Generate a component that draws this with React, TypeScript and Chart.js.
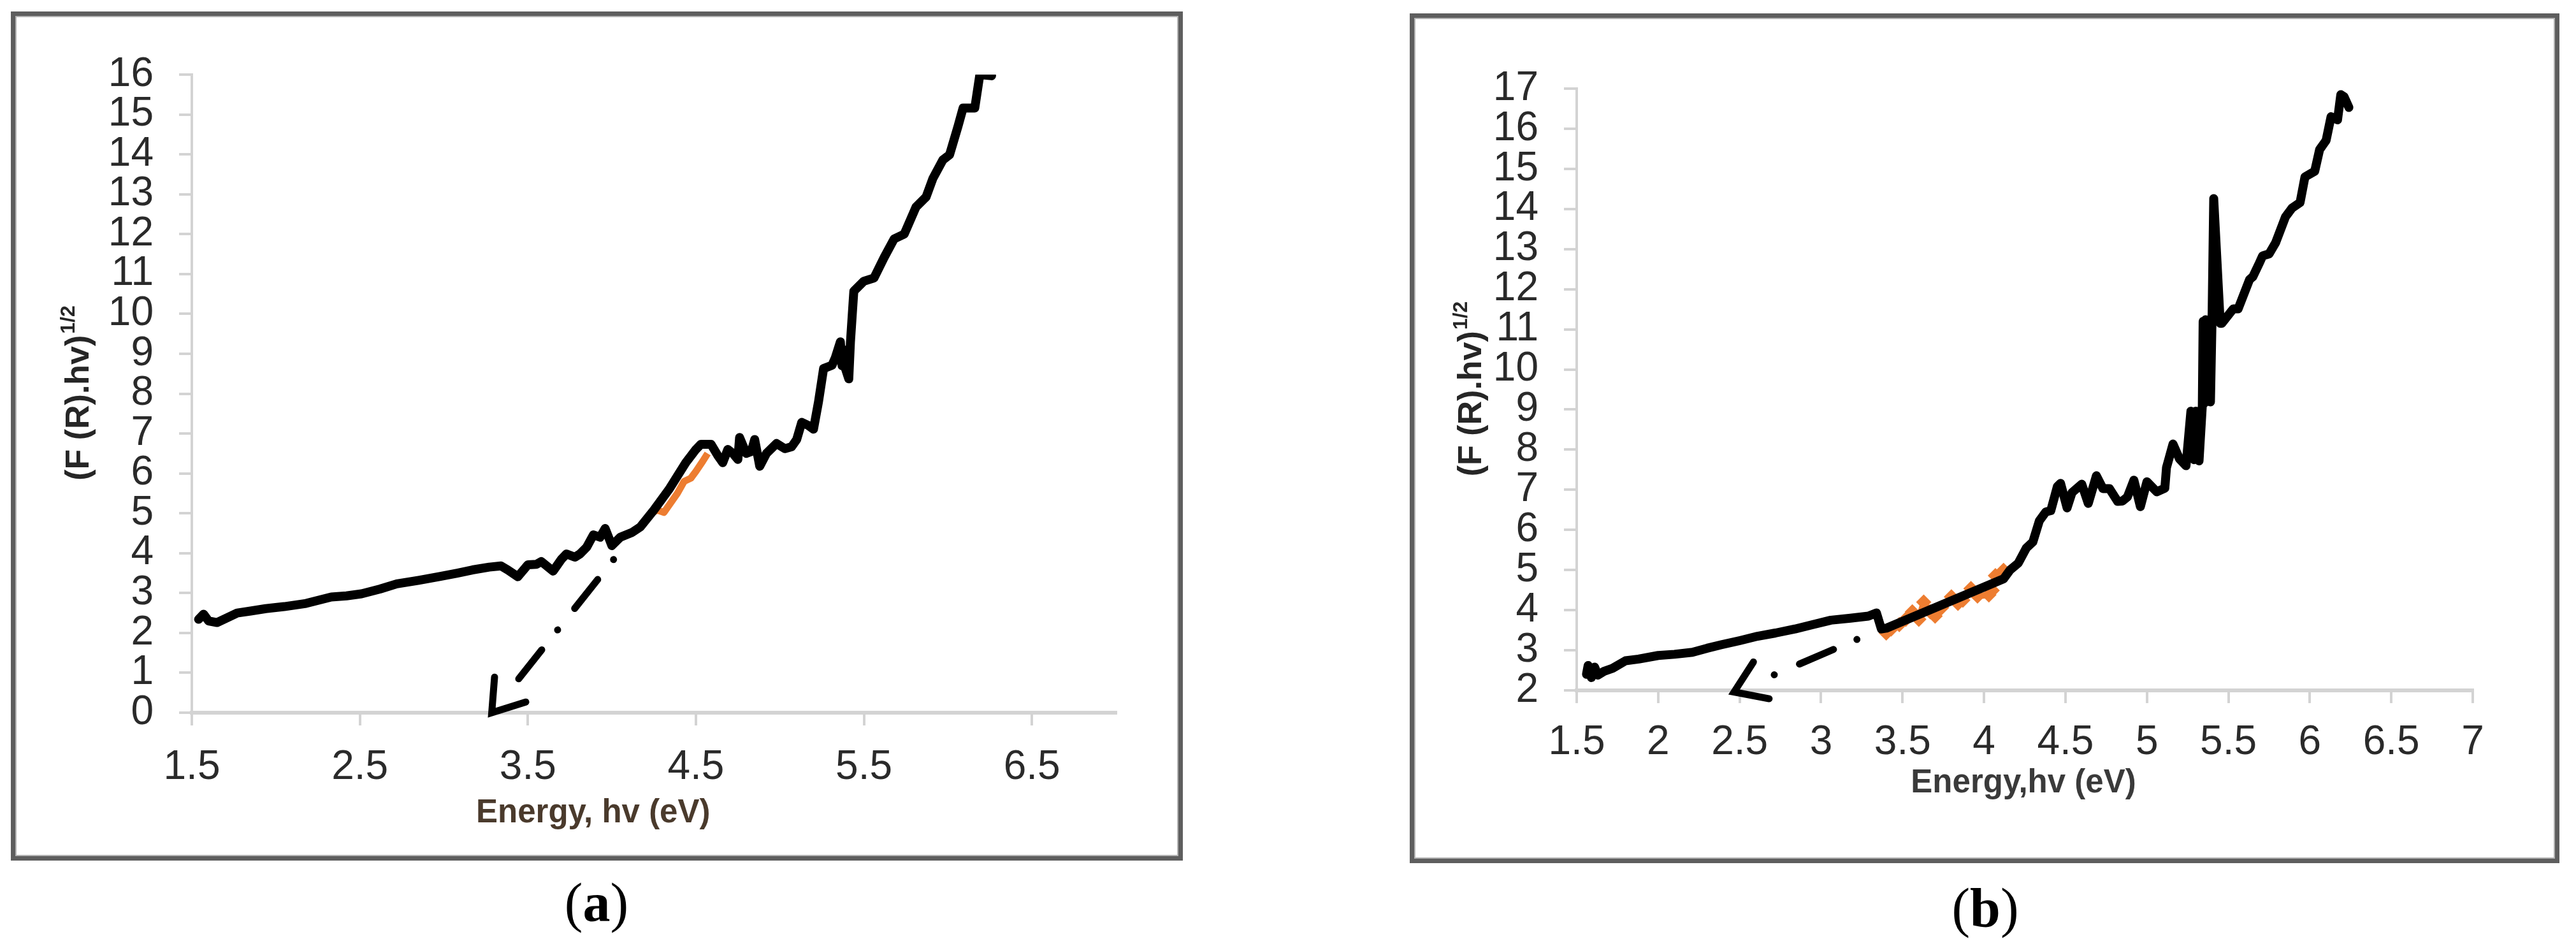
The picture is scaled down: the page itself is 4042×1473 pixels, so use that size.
import React, { useEffect, useRef } from "react";
import { Chart, registerables } from "chart.js";

Chart.register(...registerables);

// ---------------- Panel (a) data ----------------
const A_X = [
  1.54, 1.57, 1.6, 1.65, 1.7, 1.77, 1.85, 1.94, 2.05, 2.18,
  2.33, 2.42, 2.51, 2.62, 2.72, 2.85, 2.97, 3.08, 3.17, 3.27,
  3.34, 3.38, 3.44, 3.5, 3.55, 3.58, 3.65, 3.7, 3.73, 3.78,
  3.81, 3.85, 3.89, 3.93, 3.96, 4.0, 4.05, 4.12, 4.17, 4.25,
  4.34, 4.44, 4.5, 4.53, 4.59, 4.63, 4.66, 4.69, 4.72, 4.75,
  4.76, 4.8, 4.83, 4.85, 4.88, 4.92, 4.98, 5.03, 5.07, 5.1,
  5.13, 5.17, 5.2, 5.23, 5.26, 5.31, 5.33, 5.36, 5.37, 5.38,
  5.39, 5.41, 5.42, 5.44, 5.5, 5.56, 5.62, 5.68, 5.74, 5.81,
  5.87, 5.91, 5.97, 6.01, 6.06, 6.09, 6.16, 6.19, 6.26,
];
const A_Y = [
  2.34, 2.47, 2.3, 2.26, 2.36, 2.5, 2.55, 2.61, 2.66, 2.74,
  2.9, 2.93, 2.98, 3.1, 3.23, 3.32, 3.41, 3.5, 3.58, 3.65,
  3.68, 3.58, 3.41, 3.71, 3.72, 3.79, 3.55, 3.85, 3.98, 3.9,
  3.98, 4.15, 4.46, 4.4, 4.62, 4.19, 4.4, 4.52, 4.66, 5.08,
  5.6, 6.27, 6.6, 6.73, 6.73, 6.45, 6.27, 6.6, 6.5, 6.35,
  6.9, 6.5, 6.55, 6.85, 6.18, 6.5, 6.75, 6.62, 6.67, 6.85,
  7.28, 7.2, 7.11, 7.8, 8.63, 8.71, 8.9, 9.3, 8.7, 9.1,
  8.63, 8.37, 9.3, 10.57, 10.82, 10.9, 11.41, 11.88, 12.0, 12.68,
  12.93, 13.39, 13.86, 13.99, 14.7, 15.16, 15.16, 16.0, 15.97,
];
const A_FIT_X = [4.23, 4.27, 4.31, 4.35, 4.39, 4.43, 4.47, 4.5, 4.54, 4.57];
const A_FIT_Y = [5.0, 5.08, 5.02, 5.26, 5.5, 5.8, 5.88, 6.05, 6.3, 6.5];
const A_ARROW_FROM = [4.01, 3.84];
const A_ARROW_TO = [3.285, 0];
const A_X_TICKS = [1.5, 2.5, 3.5, 4.5, 5.5, 6.5];
const A_X_MIN = 1.5;
const A_X_MAX = 7;
const A_Y_MIN = 0;
const A_Y_MAX = 16;
const A_X_TITLE = "Energy, hv (eV)";
const A_CAPTION = "a";

// ---------------- Panel (b) data ----------------
const B_X = [
  1.56, 1.57, 1.59, 1.61, 1.63, 1.67, 1.72, 1.8, 1.88, 2.0,
  2.1, 2.21, 2.3, 2.39, 2.5, 2.61, 2.72, 2.84, 2.95, 3.06,
  3.18, 3.29, 3.34, 3.37, 3.4, 4.12, 4.16, 4.21, 4.26, 4.3,
  4.34, 4.38, 4.41, 4.45, 4.47, 4.51, 4.54, 4.6, 4.64, 4.69,
  4.73, 4.77, 4.82, 4.85, 4.88, 4.92, 4.96, 5.0, 5.06, 5.11,
  5.12, 5.16, 5.2, 5.24, 5.27, 5.29, 5.3, 5.32, 5.34, 5.345,
  5.35, 5.36, 5.37, 5.38, 5.39, 5.4, 5.41, 5.45, 5.46, 5.53,
  5.56, 5.63, 5.65, 5.69, 5.71, 5.75, 5.79, 5.85, 5.89, 5.94,
  5.97, 6.03, 6.06, 6.1, 6.13, 6.17, 6.19, 6.21, 6.24,
];
const B_Y = [
  2.4, 2.62, 2.32, 2.58, 2.38, 2.48, 2.55, 2.74, 2.78, 2.87,
  2.9, 2.95, 3.05, 3.14, 3.24, 3.35, 3.43, 3.53, 3.64, 3.75,
  3.8, 3.85, 3.93, 3.53, 3.55, 4.78, 5.0, 5.17, 5.55, 5.7,
  6.23, 6.45, 6.48, 7.08, 7.16, 6.55, 6.93, 7.14, 6.66, 7.35,
  7.03, 7.03, 6.71, 6.72, 6.82, 7.24, 6.58, 7.2, 6.95, 7.04,
  7.55, 8.14, 7.77, 7.6, 8.96, 7.75, 8.96, 7.72, 9.09, 11.2,
  9.15, 11.24, 9.2, 11.0, 9.19, 11.3, 14.26, 11.15, 11.15, 11.51,
  11.51, 12.24, 12.31, 12.65, 12.83, 12.88, 13.16, 13.8, 14.02, 14.16,
  14.8, 14.94, 15.48, 15.71, 16.3, 16.22, 16.85, 16.8, 16.53,
];
const B_FIT_X = [
  3.4, 3.43, 3.48, 3.52, 3.56, 3.6, 3.63, 3.67, 3.7, 3.74,
  3.8, 3.84, 3.87, 3.92, 3.96, 4.03, 4.05, 4.07, 4.12,
];
const B_FIT_Y = [
  3.43, 3.53, 3.64, 3.77, 3.96, 3.77, 4.2, 3.96, 3.85, 4.06,
  4.33, 4.17, 4.25, 4.54, 4.35, 4.38, 4.49, 4.86, 4.99,
];
const B_ARROW_FROM = [3.22, 3.27];
const B_ARROW_TO = [2.466, 1.96];
const B_X_TICKS = [1.5, 2, 2.5, 3, 3.5, 4, 4.5, 5, 5.5, 6, 6.5, 7];
const B_X_MIN = 1.5;
const B_X_MAX = 7;
const B_Y_MIN = 2;
const B_Y_MAX = 17;
const B_X_TITLE = "Energy,hv (eV)";
const B_CAPTION = "b";

const Y_TITLE_MAIN = "(F (R).hv)";
const Y_TITLE_SUP = "1/2";

const TICK_FONT = '"Liberation Sans Narrow", "Liberation Sans", Arial, sans-serif';
const TITLE_FONT = '"Liberation Sans", Arial, sans-serif';
const TICK_COLOR = "#2a2a2a";
const AXIS_GRAY = "#d3d3d3";
const ORANGE = "#ED7D31";

type PanelCfg = {
  xs: number[];
  ys: number[];
  fitX: number[];
  fitY: number[];
  fitMarkers: boolean;
  arrowFrom: number[];
  arrowTo: number[];
  xTicks: number[];
  xMin: number;
  xMax: number;
  yMin: number;
  yMax: number;
  xTitle: string;
  xTitleColor: string;
  xTitleX: number;
  xTitleY: number;
  xTitleAlign: CanvasTextAlign;
  yTitleX: number;
  width: number;
  height: number;
  areaLeft: number;
  areaRight: number;
  areaTop: number;
  areaBottom: number;
  xLabelPad: number;
};

function drawArrow(chart: any, from: number[], to: number[]) {
  const { ctx } = chart;
  const xs = chart.scales.x;
  const ys = chart.scales.y;
  const x0 = xs.getPixelForValue(from[0]);
  const y0 = ys.getPixelForValue(from[1]);
  const x1 = xs.getPixelForValue(to[0]);
  const y1 = ys.getPixelForValue(to[1]);
  const dx = x1 - x0;
  const dy = y1 - y0;
  const len = Math.hypot(dx, dy);
  const ux = dx / len;
  const uy = dy / len;
  const head = 56;
  ctx.save();
  ctx.strokeStyle = "#000";
  ctx.lineWidth = 11;
  ctx.lineCap = "round";
  ctx.setLineDash([0.01, 40, 58, 43]);
  ctx.beginPath();
  ctx.moveTo(x0, y0);
  ctx.lineTo(x1 - ux * (head + 4), y1 - uy * (head + 4));
  ctx.stroke();
  ctx.setLineDash([]);
  const back = Math.atan2(-uy, -ux);
  const a = (34 * Math.PI) / 180;
  ctx.lineJoin = "miter";
  ctx.beginPath();
  ctx.moveTo(x1 + head * Math.cos(back + a), y1 + head * Math.sin(back + a));
  ctx.lineTo(x1, y1);
  ctx.lineTo(x1 + head * Math.cos(back - a), y1 + head * Math.sin(back - a));
  ctx.stroke();
  ctx.restore();
}

function drawTitles(chart: any, cfg: PanelCfg) {
  const { ctx, chartArea } = chart;
  ctx.save();
  ctx.fillStyle = cfg.xTitleColor;
  ctx.font = `bold 51px ${TITLE_FONT}`;
  ctx.textAlign = cfg.xTitleAlign;
  ctx.textBaseline = "alphabetic";
  ctx.fillText(cfg.xTitle, cfg.xTitleX, cfg.xTitleY);

  const cy = (chartArea.top + chartArea.bottom) / 2;
  ctx.translate(cfg.yTitleX, cy);
  ctx.rotate(-Math.PI / 2);
  ctx.fillStyle = "#262626";
  ctx.textBaseline = "middle";
  ctx.textAlign = "left";
  const mainFont = `bold 52px ${TITLE_FONT}`;
  const supFont = `bold 32px ${TITLE_FONT}`;
  ctx.font = mainFont;
  const wMain = ctx.measureText(Y_TITLE_MAIN).width;
  ctx.font = supFont;
  const wSup = ctx.measureText(Y_TITLE_SUP).width;
  const start = -(wMain + wSup) / 2;
  ctx.font = mainFont;
  ctx.fillText(Y_TITLE_MAIN, start, 0);
  ctx.font = supFont;
  ctx.fillText(Y_TITLE_SUP, start + wMain + 2, -17);
  ctx.restore();
}

function makeConfig(cfg: PanelCfg): any {
  const black = cfg.xs.map((x, i) => ({ x, y: cfg.ys[i] }));
  const fit = cfg.fitX.map((x, i) => ({ x, y: cfg.fitY[i] }));
  const overlay = {
    id: "overlay",
    afterDatasetsDraw(chart: any) {
      drawArrow(chart, cfg.arrowFrom, cfg.arrowTo);
    },
    afterDraw(chart: any) {
      drawTitles(chart, cfg);
    },
  };
  return {
    type: "line",
    data: {
      datasets: [
        {
          data: black,
          borderColor: "#000",
          backgroundColor: "#000",
          borderWidth: 14,
          pointRadius: 0,
          tension: 0,
          borderJoinStyle: "round",
          borderCapStyle: "round",
        },
        {
          data: fit,
          borderColor: ORANGE,
          backgroundColor: ORANGE,
          borderWidth: cfg.fitMarkers ? 10 : 11,
          pointRadius: cfg.fitMarkers ? 12 : 0,
          pointStyle: "rectRot",
          pointBorderWidth: 0,
          tension: 0,
          borderJoinStyle: "round",
        },
      ],
    },
    options: {
      responsive: false,
      maintainAspectRatio: false,
      animation: false,
      devicePixelRatio: 1,
      events: [],
      layout: {
        padding: {
          left: 0,
          top: cfg.areaTop,
          right: cfg.width - cfg.areaRight,
          bottom: 0,
        },
      },
      plugins: {
        legend: { display: false },
        tooltip: { enabled: false },
        title: { display: false },
      },
      scales: {
        x: {
          type: "linear",
          min: cfg.xMin,
          max: cfg.xMax,
          afterBuildTicks: (scale: any) => {
            scale.ticks = cfg.xTicks.map((v) => ({ value: v }));
          },
          afterFit: (scale: any) => {
            scale.height = cfg.height - cfg.areaBottom;
          },
          ticks: {
            autoSkip: false,
            maxRotation: 0,
            minRotation: 0,
            padding: cfg.xLabelPad,
            color: TICK_COLOR,
            font: { family: TICK_FONT, size: 64 },
            callback: (v: any) => String(v),
          },
          grid: {
            display: true,
            drawOnChartArea: false,
            drawTicks: true,
            tickLength: 20,
            color: AXIS_GRAY,
            lineWidth: 4,
          },
          border: { display: true, color: AXIS_GRAY, width: 6 },
        },
        y: {
          type: "linear",
          min: cfg.yMin,
          max: cfg.yMax,
          afterFit: (scale: any) => {
            scale.width = cfg.areaLeft;
          },
          ticks: {
            stepSize: 1,
            autoSkip: false,
            padding: 40,
            color: TICK_COLOR,
            font: { family: TICK_FONT, size: 64 },
            callback: (v: any) => String(v),
          },
          grid: {
            display: true,
            drawOnChartArea: false,
            drawTicks: true,
            tickLength: 20,
            color: AXIS_GRAY,
            lineWidth: 4,
          },
          border: { display: true, color: AXIS_GRAY, width: 4 },
        },
      },
    },
    plugins: [overlay],
  };
}

const PANEL_A: PanelCfg = {
  xs: A_X,
  ys: A_Y,
  fitX: A_FIT_X,
  fitY: A_FIT_Y,
  fitMarkers: false,
  arrowFrom: A_ARROW_FROM,
  arrowTo: A_ARROW_TO,
  xTicks: A_X_TICKS,
  xMin: A_X_MIN,
  xMax: A_X_MAX,
  yMin: A_Y_MIN,
  yMax: A_Y_MAX,
  xTitle: A_X_TITLE,
  xTitleColor: "#4a3a2c",
  xTitleX: 747,
  xTitleY: 1290,
  xTitleAlign: "left",
  yTitleX: 125,
  width: 2100,
  height: 1473,
  areaLeft: 301,
  areaRight: 1751,
  areaTop: 117,
  areaBottom: 1118,
  xLabelPad: 28,
};

const PANEL_B: PanelCfg = {
  xs: B_X,
  ys: B_Y,
  fitX: B_FIT_X,
  fitY: B_FIT_Y,
  fitMarkers: true,
  arrowFrom: B_ARROW_FROM,
  arrowTo: B_ARROW_TO,
  xTicks: B_X_TICKS,
  xMin: B_X_MIN,
  xMax: B_X_MAX,
  yMin: B_Y_MIN,
  yMax: B_Y_MAX,
  xTitle: B_X_TITLE,
  xTitleColor: "#3a3a3a",
  xTitleX: 1075,
  xTitleY: 1243,
  xTitleAlign: "center",
  yTitleX: 210,
  width: 1942,
  height: 1473,
  areaLeft: 374,
  areaRight: 1780,
  areaTop: 139,
  areaBottom: 1083,
  xLabelPad: 24,
};

function Panel({ cfg, left }: { cfg: PanelCfg; left: number }) {
  const ref = useRef<HTMLCanvasElement | null>(null);
  useEffect(() => {
    if (!ref.current) return;
    const chart = new Chart(ref.current, makeConfig(cfg));
    return () => chart.destroy();
  }, [cfg]);
  return (
    <canvas
      ref={ref}
      width={cfg.width}
      height={cfg.height}
      style={{ position: "absolute", left, top: 0, width: cfg.width, height: cfg.height }}
    />
  );
}

function Frame({ left, top, width, height }: { left: number; top: number; width: number; height: number }) {
  return (
    <div
      style={{
        position: "absolute",
        left,
        top,
        width,
        height,
        boxSizing: "border-box",
        border: "7px solid #5e5e5e",
        boxShadow: "inset 0 0 0 2px #b5b5b5",
      }}
    />
  );
}

function Caption({ center, baseline, letter }: { center: number; baseline: number; letter: string }) {
  return (
    <div
      style={{
        position: "absolute",
        left: center - 150,
        width: 300,
        top: baseline - 72,
        textAlign: "center",
        fontFamily: '"Liberation Serif", "Times New Roman", serif',
        fontSize: 86,
        lineHeight: "86px",
        color: "#000",
      }}
    >
      (<b>{letter}</b>)
    </div>
  );
}

export default function App() {
  return (
    <div
      style={{
        position: "absolute",
        left: 0,
        top: 0,
        width: 4042,
        height: 1473,
        background: "#fff",
        overflow: "hidden",
      }}
    >
      <Frame left={17} top={18} width={1839} height={1332} />
      <Frame left={2212} top={21} width={1804} height={1333} />
      <Panel cfg={PANEL_A} left={0} />
      <Panel cfg={PANEL_B} left={2100} />
      <Caption center={936} baseline={1445} letter={A_CAPTION} />
      <Caption center={3115} baseline={1453} letter={B_CAPTION} />
    </div>
  );
}
